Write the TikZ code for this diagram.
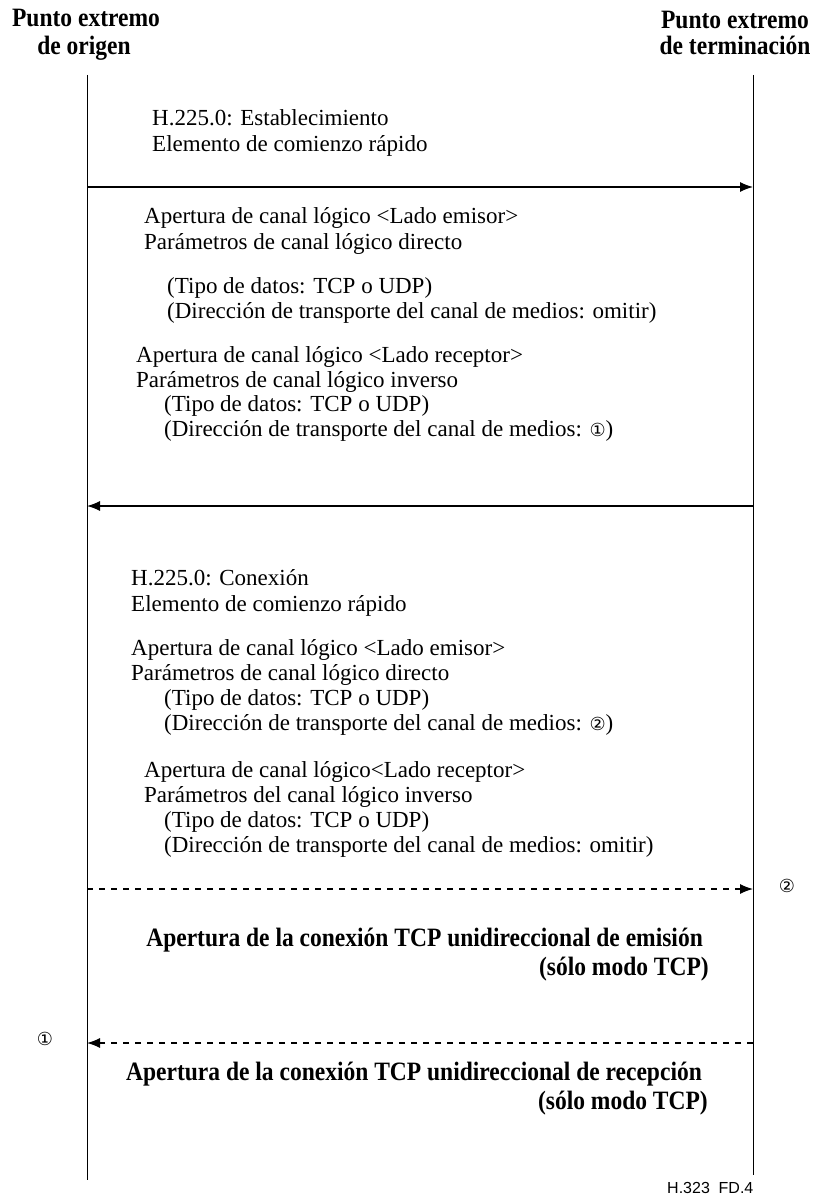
\documentclass[tikz,border=0pt]{standalone}
\usepackage{fontspec}
\setmainfont{Liberation Serif}
\newfontfamily\cbfb{Liberation Serif}[FakeStretch=0.887]
\newfontfamily\symf{DejaVu Sans}
\newfontfamily\arialf{Liberation Sans}
\usetikzlibrary{arrows.meta}
\newcommand{\cone}{{\symf\fontsize{18}{18}\selectfont ①}}
\newcommand{\ctwo}{{\symf\fontsize{18}{18}\selectfont ②}}
\tikzset{
  txt/.style={anchor=base west, inner sep=0pt, font=\fontsize{23}{26}\selectfont},
  btxt/.style={anchor=base east, inner sep=0pt, font=\cbfb\bfseries\fontsize{26.5}{30}\selectfont},
  hdr/.style={anchor=base, inner sep=0pt, font=\cbfb\bfseries\fontsize{26.5}{30}\selectfont},
  refmark/.style={anchor=center, inner sep=0pt},
  lifeline/.style={line width=1pt},
  msg/.style={line width=1.2pt, -{Latex[length=13pt,width=10pt]}},
  dmsg/.style={msg, dash pattern=on 6pt off 6pt},
}
\begin{document}
\begin{tikzpicture}[x=1pt,y=-1pt]
\useasboundingbox (0,0) rectangle (814,1204);
% headers
\node[hdr] (hl1) at (86,27) {Punto extremo};
\node[hdr] (hl2) at (84,55) {de origen};
\node[hdr] (hr1) at (735,29) {Punto extremo};
\node[hdr] (hr2) at (735,55) {de terminación};
% lifelines
\coordinate (Ltop) at (87,75);
\coordinate (Lbot) at (87,1180);
\coordinate (Rtop) at (753,75);
\coordinate (Rbot) at (753,1175);
\draw[lifeline] (Ltop) -- (Lbot);
\draw[lifeline] (Rtop) -- (Rbot);
% block 1
\node[txt] (t1) at (152,126) {H.225.0: Establecimiento};
\node[txt] (t2) at (152,151) {Elemento de comienzo rápido};
\coordinate (a1s) at (87,187);
\coordinate (a1e) at (753,187);
\draw[msg] (a1s) -- (a1e);
% block 2
\node[txt] (t3) at (144,223) {Apertura de canal lógico <Lado emisor>};
\node[txt] (t4) at (144,249) {Parámetros de canal lógico directo};
\node[txt] (t5) at (167,293) {(Tipo de datos: TCP o UDP)};
\node[txt] (t6) at (167,318) {(Dirección de transporte del canal de medios: omitir)};
\node[txt] (t7) at (136,362) {Apertura de canal lógico <Lado receptor>};
\node[txt] (t8) at (136,387) {Parámetros de canal lógico inverso};
\node[txt] (t9) at (164,411) {(Tipo de datos: TCP o UDP)};
\node[txt] (t10) at (164,436) {(Dirección de transporte del canal de medios: \cone)};
\coordinate (a2s) at (753,506);
\coordinate (a2e) at (87,506);
\draw[msg] (a2s) -- (a2e);
% block 3
\node[txt] (t11) at (131,585) {H.225.0: Conexión};
\node[txt] (t12) at (131,611) {Elemento de comienzo rápido};
\node[txt] (t13) at (131,655) {Apertura de canal lógico <Lado emisor>};
\node[txt] (t14) at (131,680) {Parámetros de canal lógico directo};
\node[txt] (t15) at (164,705) {(Tipo de datos: TCP o UDP)};
\node[txt] (t16) at (164,730) {(Dirección de transporte del canal de medios: \ctwo)};
\node[txt] (t17) at (144,777) {Apertura de canal lógico<Lado receptor>};
\node[txt] (t18) at (144,802) {Parámetros del canal lógico inverso};
\node[txt] (t19) at (164,827) {(Tipo de datos: TCP o UDP)};
\node[txt] (t20) at (164,852) {(Dirección de transporte del canal de medios: omitir)};
% TCP opening
\coordinate (a3s) at (87,889);
\coordinate (a3e) at (753,889);
\draw[dmsg] (a3s) -- (a3e);
\node[refmark] (m2) at (787,886) {\ctwo};
\node[btxt] (b1) at (703,946) {Apertura de la conexión TCP unidireccional de emisión};
\node[btxt] (b2) at (709,975) {(sólo modo TCP)};
\coordinate (a4s) at (753,1043);
\coordinate (a4e) at (87,1043);
\draw[dmsg] (a4s) -- (a4e);
\node[refmark] (m1) at (45,1039) {\cone};
\node[btxt] (b3) at (702,1080) {Apertura de la conexión TCP unidireccional de recepción};
\node[btxt] (b4) at (708,1109) {(sólo modo TCP)};
% figure id
\node[anchor=base west, inner sep=0pt, font=\arialf\fontsize{16}{18}\selectfont] (fid) at (667,1193) {H.323\hspace{0.55em}FD.4};
\end{tikzpicture}
\end{document}
